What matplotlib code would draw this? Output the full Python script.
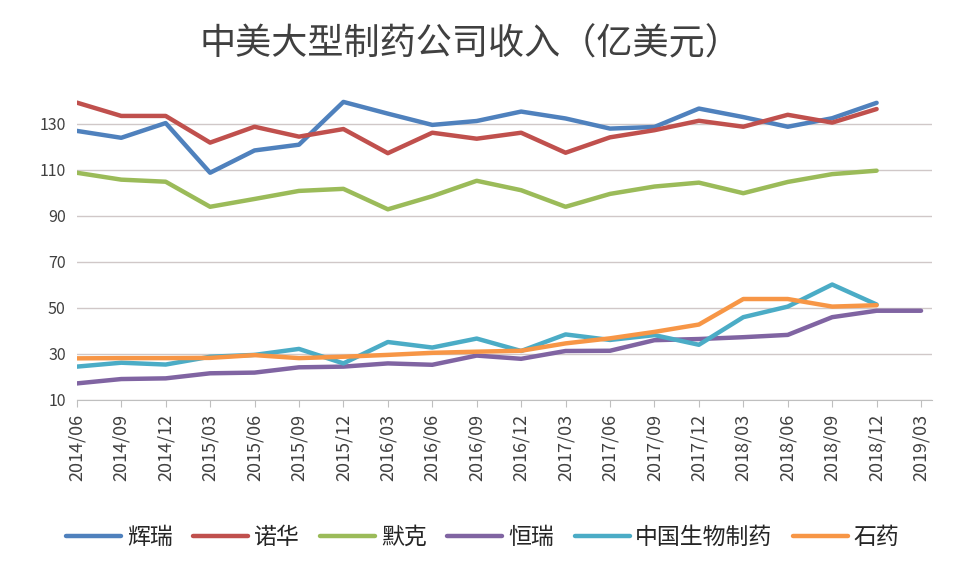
import matplotlib
matplotlib.use("Agg")
import matplotlib.pyplot as plt

plt.rcParams['font.family'] = ['Noto Sans CJK SC', 'DejaVu Sans']

# quarters on the x axis
quarters = ["2014/06", "2014/09", "2014/12", "2015/03", "2015/06", "2015/09", "2015/12",
            "2016/03", "2016/06", "2016/09", "2016/12", "2017/03", "2017/06", "2017/09",
            "2017/12", "2018/03", "2018/06", "2018/09", "2018/12", "2019/03"]

# revenue, 100M USD
pfizer = [127, 124, 130.4, 108.8, 118.5, 121, 139.6, 134.5, 129.6, 131.3, 135.4, 132.4,
          128, 128.7, 136.7, 133, 128.8, 132.5, 139.2]
novartis = [139.3, 133.5, 133.5, 121.9, 128.8, 124.5, 127.8, 117.3, 126.2, 123.6, 126.2,
            117.5, 124.2, 127.3, 131.4, 128.8, 134, 130.6, 136.5]
merck = [108.8, 105.8, 104.9, 94, 97.4, 100.9, 101.8, 92.9, 98.6, 105.3, 101.2, 94,
         99.6, 102.8, 104.5, 99.9, 104.8, 108.2, 109.7]
hengrui = [17.2, 19.1, 19.4, 21.6, 21.9, 24.2, 24.5, 25.9, 25.3, 29.3, 27.9, 31.3, 31.4,
           36, 36.5, 37.3, 38.3, 46, 48.8, 48.8]
cnbio = [24.5, 26.2, 25.4, 28.8, 29.6, 32.2, 25.9, 35.2, 32.8, 36.7, 31.3, 38.5, 36.1,
         38.2, 34, 46, 50.6, 60.2, 51.5]
cspc = [28.1, 28.2, 28.2, 28.3, 29.5, 28.2, 28.8, 29.6, 30.5, 31, 31.4, 34.6, 36.8,
        39.6, 42.8, 53.9, 53.9, 50.6, 51.2]

series = [("辉瑞", pfizer, "#4f81bd"), ("诺华", novartis, "#c0504d"),
          ("默克", merck, "#9bbb59"), ("恒瑞", hengrui, "#8064a2"),
          ("中国生物制药", cnbio, "#4bacc6"), ("石药", cspc, "#f79646")]

fig = plt.figure(figsize=(9.6, 5.76), dpi=100)
ax = fig.add_axes([0.080, 0.3056, 0.891, 0.559])

for name, vals, col in series:
    ax.plot(range(len(vals)), vals, color=col, lw=3.2, label=name, solid_capstyle='round')

ax.set_xlim(0, 19.25)
ax.set_ylim(10, 150)
ax.set_yticks(range(10, 131, 20))
ax.set_xticks(range(len(quarters)))
ax.set_xticklabels(quarters, rotation=90, fontsize=13, color="#404040")
ax.tick_params(axis='y', length=0, labelsize=11.5, labelcolor="#404040", pad=8)
ax.tick_params(axis='x', length=5, color="#bfbfbf", pad=5)
ax.grid(axis='y', color="#d0c8c8", lw=1)
ax.set_axisbelow(True)
for s in ["top", "right", "left"]:
    ax.spines[s].set_visible(False)
ax.spines["bottom"].set_color("#bfbfbf")

fig.text(0.49, 0.922, "中美大型制药公司收入（亿美元）", ha='center', va='center',
         fontsize=26, color="#404040")

fig.legend(loc='center', bbox_to_anchor=(0.503, 0.067), ncol=6, frameon=False,
           fontsize=16.5, handlelength=2.4, handletextpad=0.25, columnspacing=0.9,
           labelcolor="#262626")

fig.savefig("out.png", dpi=100, facecolor="white")
